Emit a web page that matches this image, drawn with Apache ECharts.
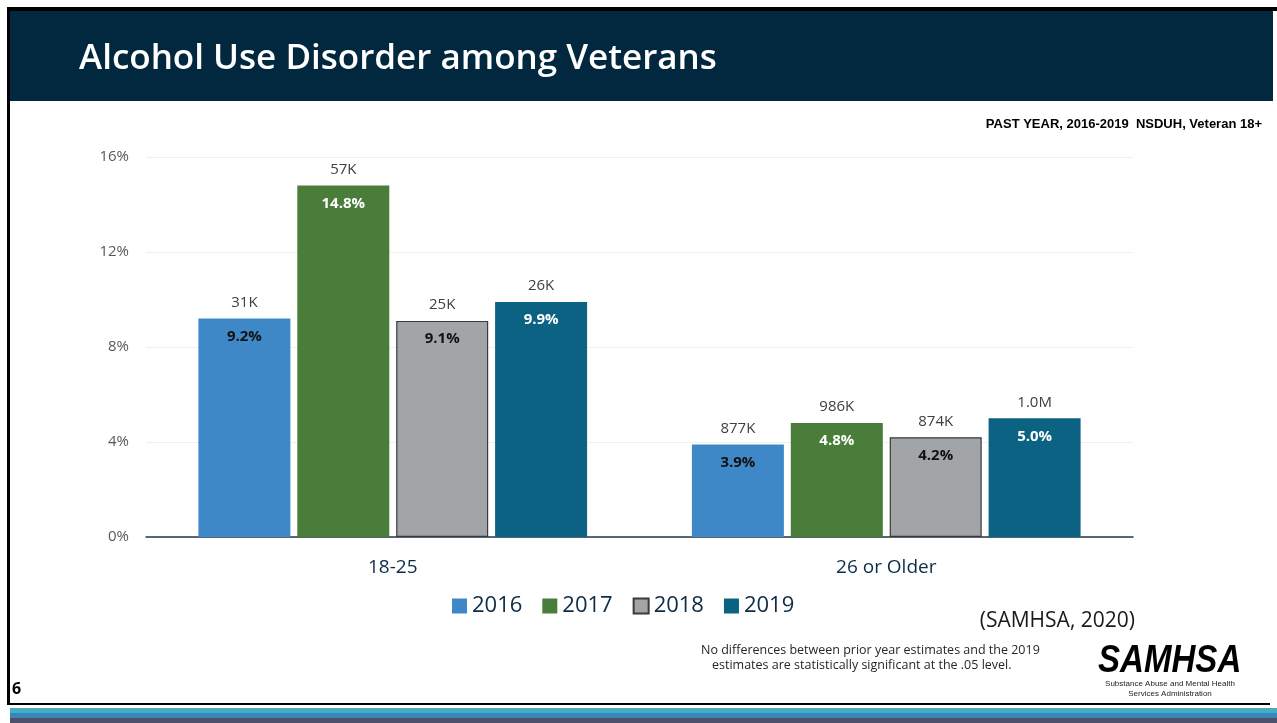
<!DOCTYPE html>
<html>
<head>
<meta charset="utf-8">
<script src="https://cdn.jsdelivr.net/npm/echarts@6/dist/echarts.min.js"></script>
<style>
  html, body { margin: 0; padding: 0; background: #ffffff; }
  #chart { width: 1277px; height: 723px; }
</style>
</head>
<body>
<div id="chart"></div>
<script>
// Age groups on the x axis
const ageGroups = ['18-25', '26 or Older'];
// Survey years (one bar series each)
const years = ['2016', '2017', '2018', '2019'];
// Percent of veterans with past-year alcohol use disorder, by year
const pct2016 = [9.2, 3.9];
const pct2017 = [14.8, 4.8];
const pct2018 = [9.1, 4.2];
const pct2019 = [9.9, 5.0];
// Estimated number of veterans, shown above each bar
const count2016 = ['31K', '877K'];
const count2017 = ['57K', '986K'];
const count2018 = ['25K', '874K'];
const count2019 = ['26K', '1.0M'];
// Value axis ticks
const yTicks = [0, 4, 8, 12, 16];

const pctByYear = [pct2016, pct2017, pct2018, pct2019];
const countByYear = [count2016, count2017, count2018, count2019];
const barColors = ['#3f88c7', '#4a7d3a', '#a2a5a8', '#0b6283'];
const innerText = ['#111111', '#ffffff', '#111111', '#ffffff'];

const font = '"Open Sans", "Noto Sans", sans-serif';

const chart = echarts.init(document.getElementById('chart'), null, { renderer: 'canvas' });

const series = years.map((yr, i) => ({
  name: yr,
  type: 'bar',
  data: pctByYear[i],
  barWidth: 92,
  barGap: '7.5%',
  itemStyle: {
    color: barColors[i],
    borderColor: i === 2 ? '#3a3a3a' : barColors[i],
    borderWidth: i === 2 ? 1.2 : 0
  },
  label: {
    show: true,
    position: 'insideTop',
    distance: 0,
    offset: [0, -33],
    formatter: p => '{c|' + countByYear[i][p.dataIndex] + '}\n{p|' + p.value.toFixed(1) + '%}',
    rich: {
      c: { fontFamily: font, fontSize: 15, color: '#404040', lineHeight: 34, align: 'center' },
      p: { fontFamily: font, fontSize: 15, fontWeight: 'bold', color: innerText[i], lineHeight: 34, align: 'center' }
    }
  },
  emphasis: { disabled: true }
}));

chart.setOption({
  animation: false,
  backgroundColor: '#ffffff',
  grid: { left: 146, right: 144, top: 157, bottom: 186, containLabel: false },
  legend: {
    data: years,
    left: 447,
    top: 590,
    itemWidth: 15,
    itemHeight: 15,
    itemGap: 20,
    icon: 'rect',
    textStyle: { fontFamily: font, fontSize: 22, color: '#0d2b45', padding: [0, 0, 0, 0] }
  },
  xAxis: {
    type: 'category',
    data: ageGroups,
    axisLine: { lineStyle: { color: '#23384f', width: 1.5 } },
    axisTick: { show: false },
    axisLabel: { fontFamily: font, fontSize: 19, color: '#0d2b45', margin: 21 }
  },
  yAxis: {
    type: 'value',
    min: yTicks[0],
    max: yTicks[yTicks.length - 1],
    interval: yTicks[1] - yTicks[0],
    axisLine: { show: false },
    axisTick: { show: false },
    splitLine: { lineStyle: { color: '#efefef', width: 1 } },
    axisLabel: { fontFamily: font, fontSize: 15, color: '#595959', margin: 17, formatter: v => v + '%' }
  },
  series: series,
  graphic: [
    // slide frame: top rule and left rule
    { type: 'rect', shape: { x: 7, y: 7, width: 1270, height: 4 }, style: { fill: '#000000' }, silent: true },
    { type: 'rect', shape: { x: 7, y: 7, width: 3, height: 697 }, style: { fill: '#000000' }, silent: true },
    // header band
    { type: 'rect', shape: { x: 10, y: 11, width: 1263, height: 90 }, style: { fill: '#01283f' }, silent: true },
    {
      type: 'text', left: 79, top: 42,
      style: { text: 'Alcohol Use Disorder among Veterans', fill: '#ffffff', font: '600 35px "Open Sans", "Noto Sans", sans-serif' },
      silent: true
    },
    {
      type: 'text', right: 15, top: 118,
      style: { text: 'PAST YEAR, 2016-2019  NSDUH, Veteran 18+', fill: '#000000', font: 'bold 13px "Liberation Sans", Arial, sans-serif' },
      silent: true
    },
    {
      type: 'text', right: 142, top: 611,
      style: { text: '(SAMHSA, 2020)', fill: '#1a1a1a', font: '21px "Open Sans", "Noto Sans", sans-serif' },
      silent: true
    },
    {
      type: 'text', left: 701, top: 644,
      style: { text: 'No differences between prior year estimates and the 2019', fill: '#262626', font: '12.5px "Open Sans", "Noto Sans", sans-serif' },
      silent: true
    },
    {
      type: 'text', left: 712, top: 659,
      style: { text: 'estimates are statistically significant at the .05 level.', fill: '#262626', font: '12.5px "Open Sans", "Noto Sans", sans-serif' },
      silent: true
    },
    // agency logotype, condensed horizontally
    {
      type: 'text', x: 1098, y: 643, scaleX: 0.87, scaleY: 1,
      style: { x: 0, y: 0, text: 'SAMHSA', fill: '#000000', font: 'italic bold 38px "Liberation Sans", Arial, sans-serif' },
      silent: true
    },
    {
      type: 'text',
      style: { x: 1170, y: 680, text: 'Substance Abuse and Mental Health', fill: '#222222', align: 'center', font: '8px "Liberation Sans", sans-serif' },
      silent: true
    },
    {
      type: 'text',
      style: { x: 1170, y: 690, text: 'Services Administration', fill: '#222222', align: 'center', font: '8px "Liberation Sans", sans-serif' },
      silent: true
    },
    // page number
    {
      type: 'text', left: 12, top: 681,
      style: { text: '6', fill: '#000000', font: 'bold 16px "Open Sans", "Noto Sans", sans-serif' },
      silent: true
    },
    // footer rule and colour stripes
    { type: 'rect', shape: { x: 7, y: 703, width: 1263, height: 2 }, style: { fill: '#000000' }, silent: true },
    { type: 'rect', shape: { x: 10, y: 708, width: 1267, height: 5 }, style: { fill: '#46adc0' }, silent: true },
    { type: 'rect', shape: { x: 10, y: 713, width: 1267, height: 5 }, style: { fill: '#3a84b9' }, silent: true },
    { type: 'rect', shape: { x: 10, y: 718, width: 1267, height: 5 }, style: { fill: '#4b5169' }, silent: true }
  ]
});
</script>
</body>
</html>
